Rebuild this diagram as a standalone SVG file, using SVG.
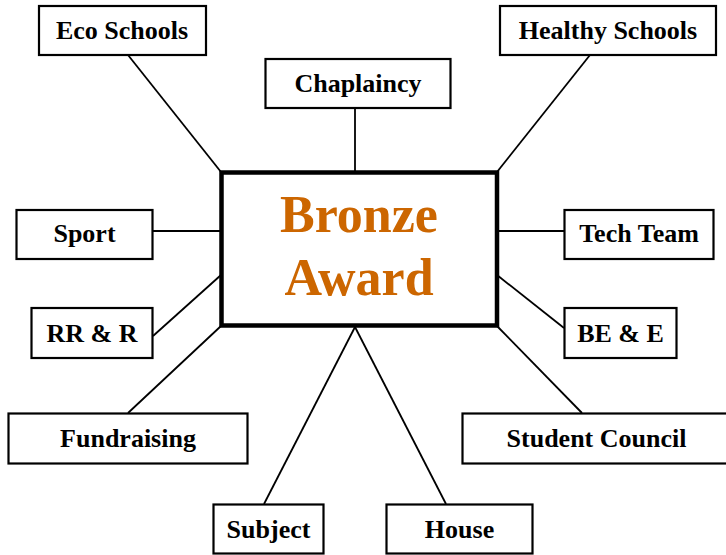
<svg xmlns="http://www.w3.org/2000/svg" width="726" height="555" viewBox="0 0 726 555">
<style>
.box{fill:#fff;stroke:#000;stroke-width:2.2}
.lbl{font-family:"Liberation Serif","Times New Roman",serif;font-weight:bold;font-size:26px;fill:#000;text-anchor:middle}
.ttl{font-family:"Liberation Serif","Times New Roman",serif;font-weight:bold;font-size:52px;fill:#CC6600;text-anchor:middle}
#connectors line{stroke:#000;stroke-width:1.8}
</style>
<rect width="726" height="555" fill="#fff"/>
<g id="connectors">
<line x1="128" y1="55" x2="221" y2="172"/>
<line x1="355" y1="108" x2="355" y2="172"/>
<line x1="590" y1="55" x2="497" y2="172"/>
<line x1="153" y1="231" x2="221" y2="231"/>
<line x1="497" y1="231" x2="564" y2="231"/>
<line x1="153" y1="336" x2="221" y2="275"/>
<line x1="497" y1="275" x2="564" y2="328"/>
<line x1="128" y1="413" x2="221" y2="326"/>
<line x1="497" y1="326" x2="582" y2="413"/>
<line x1="264" y1="504" x2="355" y2="327"/>
<line x1="446" y1="504" x2="355" y2="327"/>
</g>
<g id="center">
<rect x="221.5" y="172.5" width="275.5" height="153" fill="#fff" stroke="#000" stroke-width="4.5"/>
<text class="ttl" x="359" y="232">Bronze</text>
<text class="ttl" x="359" y="295">Award</text>
</g>
<g id="eco"><rect class="box" x="39" y="6" width="167" height="49"/><text class="lbl" x="122" y="39">Eco Schools</text></g>
<g id="chaplaincy"><rect class="box" x="265.5" y="59" width="185" height="49"/><text class="lbl" x="358" y="92">Chaplaincy</text></g>
<g id="healthy"><rect class="box" x="500" y="6" width="216" height="49"/><text class="lbl" x="608" y="39">Healthy Schools</text></g>
<g id="sport"><rect class="box" x="16.5" y="210" width="136" height="49"/><text class="lbl" x="84.5" y="242">Sport</text></g>
<g id="tech"><rect class="box" x="564.5" y="210" width="149" height="49"/><text class="lbl" x="639" y="242">Tech Team</text></g>
<g id="rrr"><rect class="box" x="31.5" y="308" width="121" height="50"/><text class="lbl" x="92" y="342">RR &amp; R</text></g>
<g id="bee"><rect class="box" x="564.5" y="308" width="112" height="50"/><text class="lbl" x="620.5" y="342">BE &amp; E</text></g>
<g id="fundraising"><rect class="box" x="8.5" y="413.5" width="239" height="50"/><text class="lbl" x="128" y="447">Fundraising</text></g>
<g id="council"><rect class="box" x="462.5" y="413.5" width="269" height="50"/><text class="lbl" x="596.5" y="447">Student Council</text></g>
<g id="subject"><rect class="box" x="213.5" y="504.5" width="110" height="49"/><text class="lbl" x="268.5" y="538">Subject</text></g>
<g id="house"><rect class="box" x="386.5" y="504.5" width="146" height="49"/><text class="lbl" x="459.5" y="538">House</text></g>
</svg>
